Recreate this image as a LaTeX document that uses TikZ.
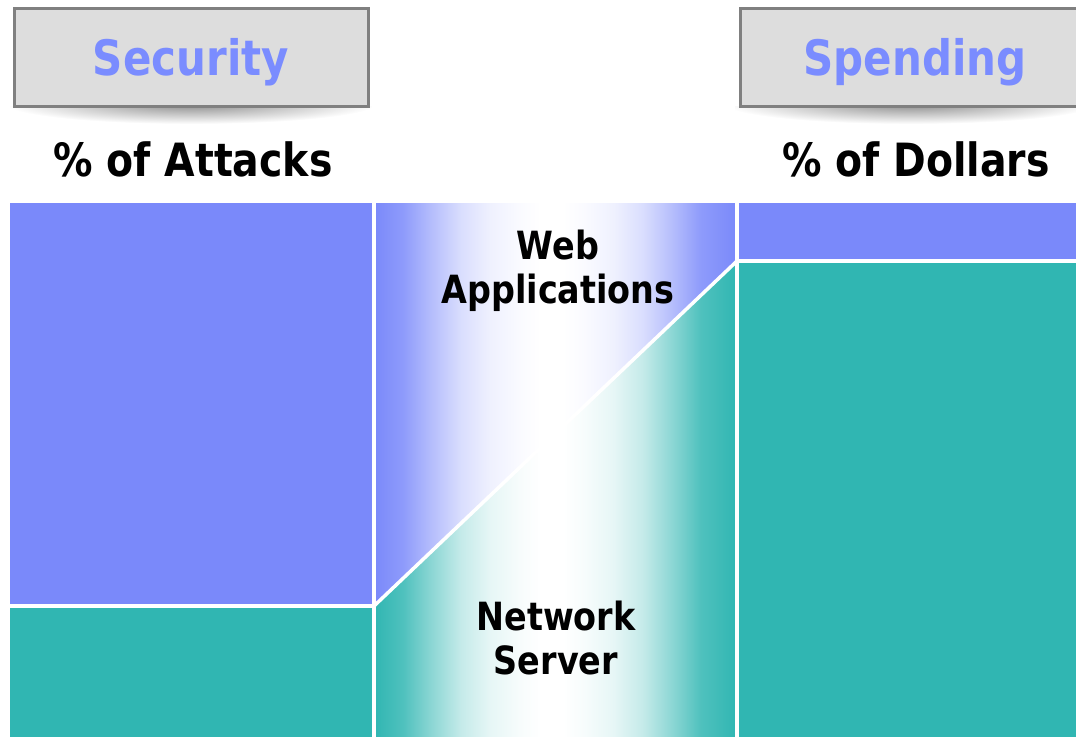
\documentclass[tikz,border=0pt]{standalone}
\usepackage{fontspec}
\setmainfont{DejaVu Sans}[FakeStretch=0.86]
\definecolor{blueC}{RGB}{122,137,250}
\definecolor{tealC}{RGB}{48,182,178}
\definecolor{titleC}{RGB}{122,140,255}
\definecolor{hdrFill}{RGB}{221,221,221}
\definecolor{hdrLine}{RGB}{128,128,128}
\pgfdeclarehorizontalshading{bluefade}{100bp}{color(0bp)=(blueC); color(25bp)=(blueC); color(29bp)=(blueC!85); color(33bp)=(blueC!55); color(37bp)=(blueC!28); color(41bp)=(blueC!12); color(45bp)=(blueC!4); color(48bp)=(white); color(51bp)=(white); color(54bp)=(blueC!4); color(58bp)=(blueC!12); color(62bp)=(blueC!28); color(66bp)=(blueC!55); color(70bp)=(blueC!85); color(75bp)=(blueC); color(100bp)=(blueC)}
\pgfdeclarehorizontalshading{tealfade}{100bp}{color(0bp)=(tealC); color(25bp)=(tealC); color(29bp)=(tealC!85); color(33bp)=(tealC!55); color(37bp)=(tealC!28); color(41bp)=(tealC!12); color(45bp)=(tealC!4); color(48bp)=(white); color(51bp)=(white); color(54bp)=(tealC!4); color(58bp)=(tealC!12); color(62bp)=(tealC!28); color(66bp)=(tealC!55); color(70bp)=(tealC!85); color(75bp)=(tealC); color(100bp)=(tealC)}
\tikzset{
  hdrbox/.style={draw=hdrLine, fill=hdrFill, line width=3bp},
  hdrtext/.style={font=\bfseries\fontsize{49}{52}\selectfont, text=titleC, inner sep=0pt},
  captext/.style={font=\bfseries\fontsize{46}{49}\selectfont, text=black, inner sep=0pt},
  midtext/.style={font=\bfseries\fontsize{39}{44}\selectfont, text=black, inner sep=0pt, align=center},
  sep/.style={draw=white, line width=3.5bp},
}
\begin{document}
\begin{tikzpicture}[x=1bp, y=-1bp]
\useasboundingbox (0,0) rectangle (1076,737);
% shadows under header boxes
\begin{scope}
  \clip (10,106) rectangle (372,126);
  \shade[inner color=black!45, outer color=white] (191,104) ellipse (185 and 20);
\end{scope}
\begin{scope}
  \clip (735,106) rectangle (1076,126);
  \shade[inner color=black!45, outer color=white] (910,104) ellipse (185 and 20);
\end{scope}
% header boxes
\draw[hdrbox] (14,9) rectangle (368,106);
\draw[hdrbox] (740,9) rectangle (1082,106);
\node[hdrtext] (sec) at (191,62) {Security};
\node[hdrtext] (spe) at (915,62) {Spending};
\node[captext] (att) at (193,159) {\% of Attacks};
\node[captext] (dol) at (916,159) {\% of Dollars};
% left column
\fill[blueC] (10,203) rectangle (372,606);
\fill[tealC] (10,606) rectangle (372,737);
% right column
\fill[blueC] (737,203) rectangle (1076,261);
\fill[tealC] (737,261) rectangle (1076,737);
% middle column
\begin{scope}
  \clip (374,203) -- (737,203) -- (737,261) -- (374,606) -- cycle;
  \shade[shading=bluefade] (374,203) rectangle (737,737);
\end{scope}
\begin{scope}
  \clip (374,606) -- (737,261) -- (737,737) -- (374,737) -- cycle;
  \shade[shading=tealfade] (374,203) rectangle (737,737);
\end{scope}
% separators
\draw[sep] (10,606) -- (374,606);
\draw[sep] (737,261) -- (1076,261);
\draw[sep] (374,203) -- (374,737);
\draw[sep] (737,203) -- (737,737);
\draw[sep] (374,606) -- (737,261);
% middle labels
\node[midtext] (web) at (558,271) {Web\\Applications};
\node[midtext] (net) at (556,638) {Network\\Server};
\end{tikzpicture}
\end{document}
